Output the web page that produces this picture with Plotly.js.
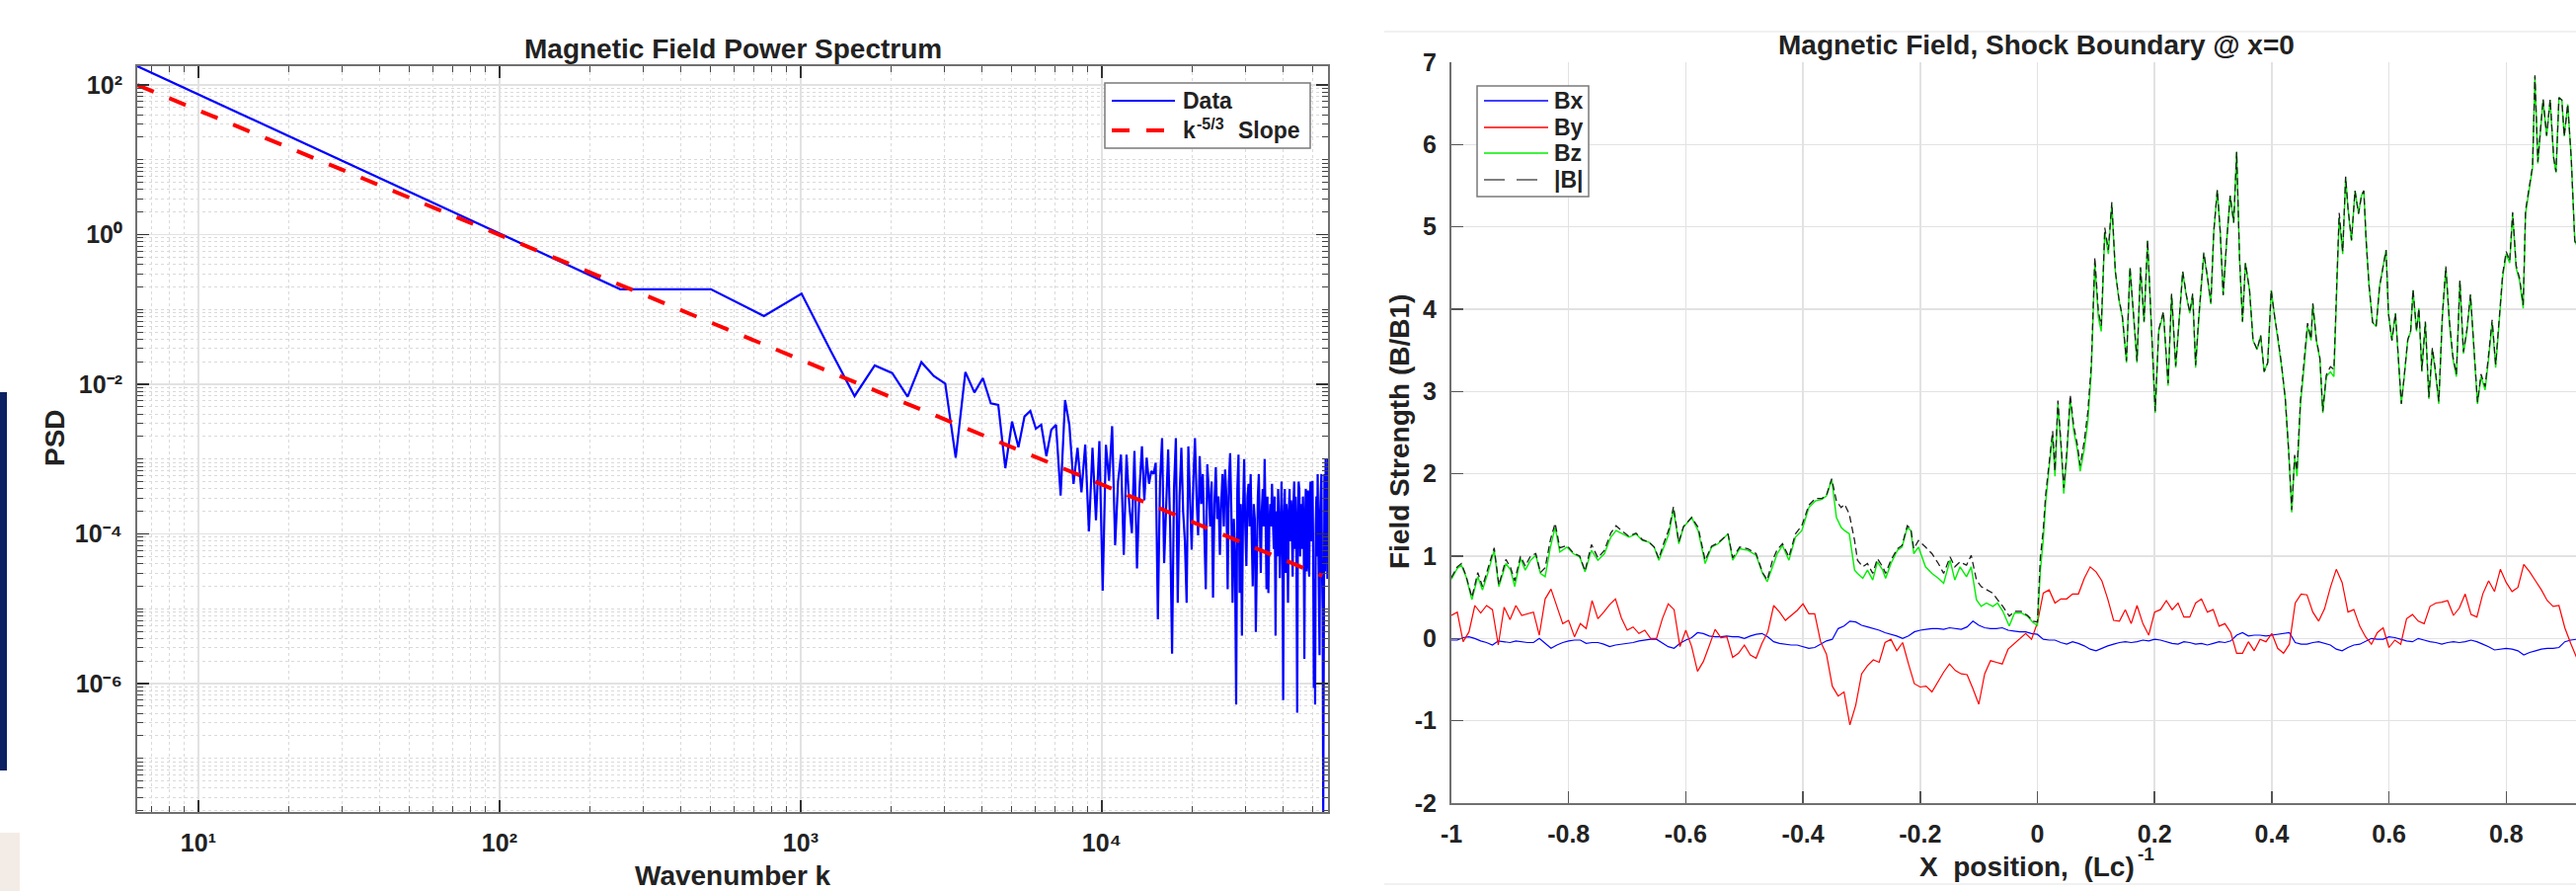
<!DOCTYPE html>
<html>
<head>
<meta charset="utf-8">
<script src="https://cdn.plot.ly/plotly-3.0.1.min.js"></script>
<style>
html,body{margin:0;padding:0;background:#ffffff;overflow:hidden;}
#chart{width:2609px;height:902px;}
</style>
</head>
<body>
<div id="chart"></div>
<script>
// ---------------- Left panel: power spectrum ----------------
const kFirst = 6.27;     // first wavenumber sample
const kStep = 251.8;     // wavenumber spacing of the remaining samples
// log10(PSD), one value per wavenumber sample
const psdLog10 = [
  2.251,-0.73,-0.73,-1.089,-0.79,-1.555,-2.158,-1.749,-1.851,-2.167,
  -1.705,-1.89,-1.991,-2.981,-1.837,-2.11,-1.917,-2.255,-2.277,-3.122,
  -2.498,-2.841,-2.431,-2.356,-2.594,-2.541,-2.96,-2.607,-2.541,-3.488,
  -2.211,-2.541,-3.333,-2.85,-3.443,-2.805,-3.967,-2.85,-3.818,-2.76,
  -4.76,-2.81,-3.29,-2.56,-4.15,-3.3,-2.94,-4.28,-2.94,-3.6,
  -3.99,-2.89,-4.46,-3.4,-2.83,-3.55,-2.98,-3.33,-3.16,-3.2,
  -3.05,-5.14,-3.3,-2.72,-4.39,-3.6,-2.87,-3.9,-5.6,-3.4,
  -2.72,-4.92,-3.5,-2.85,-3.7,-4.1,-4.92,-2.83,-3.6,-4.21,
  -3.3,-2.72,-3.5,-4.02,-2.96,-3.6,-3.2,-3.9,-4.74,-3.07,
  -3.4,-3.9,-3.3,-4.85,-3.6,-3.11,-3.8,-3.5,-4.28,-3.6,
  -3.2,-3.9,-3.14,-3.5,-4.74,-3.3,-2.92,-3.7,-4.92,-3.8,
  -4.3,-6.28,-3.4,-2.94,-4.79,-3.6,-5.36,-3.7,-3.0,-3.9,
  -4.43,-3.5,-3.33,-3.9,-3.2,-4.0,-4.7,-3.6,-3.8,-5.31,
  -4.26,-3.5,-3.2,-3.9,-4.52,-3.7,-3.4,-3.9,-3.0,-3.8,
  -4.74,-3.5,-4.79,-3.9,-3.6,-3.9,-3.33,-3.8,-4.2,-3.5,
  -5.36,-3.7,-4.3,-3.4,-3.8,-4.59,-3.5,-3.3,-4.0,-6.22,
  -3.8,-3.4,-4.52,-3.6,-3.9,-4.92,-3.7,-3.4,-4.1,-3.55,
  -4.0,-4.57,-3.6,-3.3,-4.2,-3.5,-4.4,-6.39,-3.8,-3.3,
  -3.42,-4.3,-3.6,-3.64,-4.2,-3.5,-4.0,-5.67,-3.9,-3.4,
  -4.5,-3.6,-3.42,-4.4,-4.57,-3.5,-3.3,-4.1,-3.6,-3.29,
  -4.2,-6.06,-4.6,-6.28,-3.9,-3.5,-4.3,-3.2,-4.1,-4.8,
  -5.62,-3.7,-3.4,-3.2,-4.5,-5.0,-7.716,-5.8,-3.2,-4.5,
  -3.0,-4.0,-3.3,-4.6,-3.0
];
const slopeK = [6.27, 54000];
const slopePsd = [100, 2.76e-5];
const xTickVals = [10, 100, 1000, 10000];
const xTickText = ['10\u00b9','10\u00b2','10\u00b3','10\u2074'];
const yTickVals = [1e2, 1, 1e-2, 1e-4, 1e-6];
const yTickText = ['10\u00b2','10\u2070','10\u207b\u00b2','10\u207b\u2074','10\u207b\u2076'];
const legend1Names = ['Data', 'k', '-5/3', 'Slope'];

// ---------------- Right panel: magnetic field ----------------
const posStart = -1, posStep = 0.01;   // grid of Bx, By samples
const bx = [
  -0.02,-0.02,0.01,0.02,0.00,-0.03,-0.05,-0.08,-0.03,-0.04,
  -0.05,-0.03,-0.04,-0.05,-0.05,0.00,-0.06,-0.12,-0.08,-0.05,
  -0.03,-0.02,-0.02,-0.06,-0.05,-0.05,-0.07,-0.10,-0.08,-0.07,
  -0.06,-0.05,-0.03,-0.02,-0.01,-0.01,-0.05,-0.10,-0.12,-0.06,
  -0.02,0.01,0.07,0.06,0.03,0.02,0.02,0.03,0.02,0.02,
  0.00,0.03,0.05,0.06,0.02,-0.04,-0.06,-0.07,-0.08,-0.08,
  -0.10,-0.12,-0.11,-0.07,-0.03,-0.01,0.12,0.15,0.21,0.20,
  0.16,0.14,0.12,0.10,0.07,0.05,0.03,0.00,0.03,0.08,
  0.10,0.11,0.12,0.12,0.11,0.13,0.12,0.11,0.14,0.21,
  0.16,0.13,0.12,0.12,0.13,0.10,0.09,0.08,0.08,0.06,
  0.05,-0.01,-0.02,-0.02,-0.05,-0.07,-0.04,-0.06,-0.09,-0.13,
  -0.15,-0.12,-0.09,-0.07,-0.05,-0.04,-0.05,-0.04,-0.02,-0.03,
  -0.01,-0.02,-0.04,-0.06,-0.07,-0.04,-0.05,-0.07,-0.06,-0.08,
  -0.06,-0.04,-0.05,-0.03,0.04,0.07,0.03,0.04,0.04,0.03,
  0.04,0.05,0.06,0.07,-0.05,-0.07,-0.07,-0.05,-0.04,-0.06,
  -0.08,-0.13,-0.15,-0.11,-0.08,-0.07,-0.03,0.00,-0.01,-0.01,
  0.02,0.01,-0.01,-0.03,-0.04,0.00,-0.02,-0.04,-0.05,-0.07,
  -0.05,-0.04,-0.05,-0.04,-0.02,-0.04,-0.07,-0.10,-0.14,-0.13,
  -0.12,-0.13,-0.15,-0.20,-0.17,-0.15,-0.13,-0.12,-0.12,-0.11,
  -0.04,-0.02,-0.01
];
const by = [
  0.28,0.32,-0.04,0.08,0.40,0.31,0.40,0.35,-0.08,0.38,
  0.23,0.40,0.28,0.30,0.32,0.04,0.48,0.60,0.40,0.18,
  0.22,0.02,0.18,0.12,0.46,0.24,0.32,0.41,0.48,0.25,
  0.10,0.14,0.06,0.10,0.00,0.00,0.24,0.42,0.35,-0.10,
  0.10,-0.10,-0.40,-0.28,-0.09,0.11,0.01,0.02,-0.23,-0.18,
  -0.08,-0.20,-0.24,-0.06,0.08,0.40,0.32,0.22,0.28,0.34,
  0.42,0.30,0.30,-0.04,-0.19,-0.58,-0.70,-0.65,-1.05,-0.81,
  -0.43,-0.33,-0.26,-0.29,-0.05,-0.01,-0.15,-0.05,-0.31,-0.55,
  -0.59,-0.58,-0.65,-0.53,-0.41,-0.31,-0.39,-0.43,-0.44,-0.61,
  -0.80,-0.43,-0.27,-0.29,-0.31,-0.13,-0.07,-0.01,0.06,-0.01,
  0.19,0.55,0.59,0.43,0.48,0.48,0.54,0.54,0.73,0.87,
  0.81,0.70,0.48,0.22,0.21,0.35,0.18,0.40,0.18,0.04,
  0.32,0.35,0.46,0.35,0.43,0.26,0.26,0.43,0.48,0.32,
  0.35,0.15,0.18,0.07,-0.18,-0.18,-0.04,-0.15,-0.01,-0.04,
  0.06,-0.12,-0.18,-0.07,0.43,0.54,0.53,0.32,0.21,0.36,
  0.62,0.84,0.68,0.32,0.35,0.15,0.02,-0.07,0.07,0.13,
  -0.11,-0.02,-0.07,0.24,0.29,0.21,0.18,0.39,0.43,0.44,
  0.46,0.28,0.37,0.54,0.29,0.26,0.54,0.70,0.57,0.84,
  0.68,0.57,0.62,0.90,0.81,0.70,0.59,0.46,0.39,0.40,
  0.13,-0.06,-0.23
];
const bzX = [
  -1.0,-0.99,-0.983,-0.975,-0.965,-0.955,-0.947,-0.938,-0.927,-0.919,
  -0.907,-0.899,-0.892,-0.882,-0.874,-0.865,-0.856,-0.848,-0.84,-0.831,
  -0.823,-0.815,-0.803,-0.792,-0.781,-0.772,-0.761,-0.75,-0.739,-0.728,
  -0.719,-0.708,-0.697,-0.685,-0.674,-0.663,-0.654,-0.646,-0.638,-0.629,
  -0.621,-0.612,-0.604,-0.59,-0.579,-0.567,-0.556,-0.545,-0.528,-0.52,
  -0.508,-0.494,-0.48,-0.469,-0.461,-0.452,-0.444,-0.435,-0.424,-0.413,
  -0.402,-0.39,-0.379,-0.368,-0.36,-0.351,-0.343,-0.335,-0.329,-0.321,
  -0.312,-0.307,-0.298,-0.29,-0.281,-0.273,-0.264,-0.259,-0.25,-0.239,
  -0.231,-0.222,-0.216,-0.211,-0.203,-0.191,-0.18,-0.169,-0.16,-0.149,
  -0.141,-0.132,-0.121,-0.113,-0.104,-0.096,-0.087,-0.076,-0.068,-0.059,
  -0.048,-0.039,-0.028,-0.017,-0.007,0,
  0.005,0.01,0.014,0.02,0.026,0.03,0.035,0.041,0.045,0.05,
  0.056,0.062,0.068,0.073,0.08,0.086,0.092,0.098,0.104,0.109,
  0.115,0.121,0.127,0.133,0.139,0.145,0.152,0.158,0.164,0.17,
  0.176,0.182,0.188,0.194,0.201,0.207,0.215,0.223,0.229,0.236,
  0.242,0.248,0.254,0.26,0.265,0.27,0.275,0.284,0.29,0.296,
  0.301,0.307,0.312,0.317,0.323,0.329,0.335,0.34,0.345,0.35,
  0.355,0.362,0.368,0.375,0.381,0.387,0.393,0.399,0.405,0.411,
  0.417,0.423,0.429,0.434,0.439,0.443,0.449,0.455,0.461,0.467,
  0.47,0.476,0.482,0.487,0.493,0.5,0.506,0.511,0.515,0.521,
  0.526,0.53,0.536,0.542,0.548,0.553,0.557,0.561,0.566,0.572,
  0.578,0.584,0.59,0.595,0.599,0.605,0.611,0.617,0.621,0.626,
  0.632,0.637,0.641,0.647,0.651,0.656,0.662,0.668,0.674,0.679,
  0.685,0.691,0.697,0.703,0.709,0.715,0.721,0.727,0.733,0.739,
  0.745,0.751,0.757,0.764,0.77,0.776,0.782,0.788,0.794,0.8,
  0.806,0.811,0.817,0.823,0.829,0.833,0.839,0.845,0.849,0.854,
  0.859,0.863,0.869,0.875,0.881,0.885,0.89,0.895,0.899,0.905,
  0.911,0.917,0.925
];
const bz = [
  0.72,0.85,0.89,0.75,0.47,0.75,0.59,0.79,1.07,0.63,
  0.91,0.83,0.63,0.97,0.83,0.95,1.01,0.79,0.75,1.11,
  1.35,1.05,1.11,1.03,0.99,0.81,1.07,0.95,1.03,1.23,
  1.31,1.27,1.23,1.27,1.19,1.17,1.11,0.95,1.11,1.27,
  1.57,1.15,1.35,1.47,1.31,0.91,1.11,1.15,1.27,0.95,
  1.09,1.07,1.01,0.79,0.69,0.87,1.03,1.13,0.95,1.23,
  1.31,1.59,1.67,1.69,1.73,1.93,1.47,1.35,1.31,1.27,
  0.83,0.79,0.73,0.83,0.71,0.93,0.83,0.73,0.91,1.07,
  1.11,1.35,1.31,1.03,1.11,0.87,0.79,0.73,0.67,0.95,
  0.71,0.87,0.75,0.87,0.47,0.39,0.43,0.39,0.43,0.33,
  0.15,0.31,0.31,0.27,0.19,0.16,
  0.82,1.20,1.64,2.08,2.47,1.97,2.85,2.25,1.76,2.19,
  2.91,2.52,2.30,2.03,2.30,2.63,3.24,4.56,3.90,3.73,
  4.94,4.67,5.27,4.45,4.12,3.90,3.35,4.50,3.95,3.35,
  4.50,3.84,4.83,3.84,2.74,3.73,3.95,3.07,4.17,3.29,
  3.84,4.45,4.17,3.95,4.17,3.29,3.84,4.67,4.39,4.06,
  4.94,5.44,4.94,4.17,4.83,5.38,5.05,5.91,4.61,3.84,
  4.56,4.23,3.62,3.51,3.68,3.24,3.35,4.23,3.90,3.62,
  3.29,2.91,2.25,1.53,2.19,1.97,2.85,3.29,3.79,3.62,
  4.06,3.62,3.40,2.74,3.18,3.24,3.18,4.28,5.11,4.67,
  5.60,5.22,4.83,5.44,5.16,5.38,5.44,4.83,4.28,3.84,
  3.79,4.28,4.50,4.72,3.95,3.62,3.95,3.29,2.85,3.18,
  3.62,3.73,4.23,3.73,4.01,3.24,3.84,2.91,3.51,3.24,
  2.85,3.90,4.50,3.84,3.40,3.18,4.34,3.46,3.73,4.17,
  3.57,2.85,3.18,3.02,3.40,3.84,3.29,3.84,4.39,4.67,
  4.56,5.16,4.50,4.34,4.01,5.16,5.44,5.72,6.82,5.77,
  6.21,6.54,6.10,6.54,5.83,5.66,6.57,6.54,6.10,6.49,
  5.83,4.83,4.70
];
const bmag = [
  0.74,0.87,0.91,0.76,0.50,0.80,0.63,0.84,1.10,0.65,
  0.96,0.86,0.70,1.00,0.88,1.00,1.03,0.80,0.86,1.20,
  1.40,1.10,1.13,1.04,1.00,0.82,1.14,0.98,1.07,1.28,
  1.37,1.30,1.24,1.28,1.20,1.17,1.11,0.97,1.15,1.32,
  1.60,1.17,1.36,1.47,1.35,0.95,1.12,1.16,1.27,0.98,
  1.11,1.09,1.03,0.80,0.71,0.95,1.08,1.15,0.99,1.27,
  1.37,1.62,1.70,1.70,1.74,1.94,1.67,1.59,1.63,1.51,
  1.19,0.95,0.87,0.91,0.79,0.97,0.87,0.79,0.95,1.09,
  1.13,1.37,1.33,1.09,1.19,1.11,1.03,0.91,0.79,0.99,
  0.87,0.93,0.89,1.01,0.71,0.63,0.59,0.55,0.47,0.39,
  0.27,0.33,0.33,0.28,0.21,0.20,
  0.98,1.32,1.74,2.16,2.52,2.03,2.89,2.30,1.83,2.25,
  2.96,2.58,2.36,2.10,2.40,2.75,3.33,4.63,3.97,3.80,
  4.99,4.72,5.30,4.46,4.13,3.91,3.37,4.51,3.96,3.37,
  4.51,3.85,4.84,3.84,2.76,3.75,3.97,3.10,4.19,3.31,
  3.87,4.46,4.18,3.96,4.19,3.32,3.87,4.69,4.40,4.08,
  4.95,5.45,4.94,4.17,4.83,5.38,5.05,5.91,4.61,3.85,
  4.56,4.23,3.62,3.51,3.68,3.24,3.35,4.23,3.90,3.63,
  3.30,2.91,2.25,1.56,2.23,2.04,2.90,3.33,3.83,3.64,
  4.07,3.63,3.41,2.76,3.20,3.30,3.27,4.35,5.17,4.70,
  5.61,5.23,4.84,5.44,5.16,5.38,5.44,4.83,4.28,3.84,
  3.79,4.28,4.50,4.72,3.95,3.62,3.95,3.29,2.85,3.19,
  3.63,3.74,4.24,3.74,4.01,3.25,3.85,2.93,3.53,3.27,
  2.88,3.92,4.52,3.86,3.43,3.21,4.35,3.48,3.76,4.18,
  3.58,2.87,3.21,3.06,3.45,3.87,3.33,3.89,4.43,4.70,
  4.59,5.18,4.53,4.37,4.05,5.20,5.47,5.74,6.84,5.79,
  6.22,6.55,6.11,6.55,5.84,5.67,6.57,6.54,6.10,6.49,
  5.83,4.83,4.70
];
const x2TickVals = [-1,-0.8,-0.6,-0.4,-0.2,0,0.2,0.4,0.6,0.8];
const x2TickText = ['-1','-0.8','-0.6','-0.4','-0.2','0','0.2','0.4','0.6','0.8'];
const y2TickVals = [-2,-1,0,1,2,3,4,5,6,7];
const y2TickText = ['-2','-1','0','1','2','3','4','5','6','7'];
const legend2Names = ['Bx','By','Bz','|B|'];

// ---------------- build ----------------
const W = 2609, H = 902;
const px = v => v / W;
const py = v => 1 - v / H;
const FONT = 'Liberation Sans, Arial, Helvetica, sans-serif';
const TXT = '#222222';
const AXC = '#707070';

const k = psdLog10.map((_, n) => n === 0 ? kFirst : n * kStep);
const psd = psdLog10.map(v => Math.pow(10, v));

const minorX = [];
for (let e = 0; e <= 4; e++) for (let m = 2; m <= 9; m++) minorX.push(m * Math.pow(10, e));
const minorY = [];
for (let e = -8; e <= 2; e++) for (let m = 1; m <= 9; m++) {
  if (m === 1 && e % 2 === 0) continue;
  minorY.push(m * Math.pow(10, e));
}

const traces = [
  {x: k, y: psd, xaxis: 'x', yaxis: 'y', type: 'scatter', mode: 'lines',
   line: {color: '#0000ff', width: 2.2}, name: 'Data'},
  {x: slopeK, y: slopePsd, xaxis: 'x', yaxis: 'y', type: 'scatter', mode: 'lines',
   line: {color: '#ff0000', width: 4, dash: '18px,17px'}, name: 'k^-5/3 Slope'},
  {y: bx, x0: posStart, dx: posStep, xaxis: 'x2', yaxis: 'y2', type: 'scatter', mode: 'lines',
   line: {color: '#0000ff', width: 1.2}, name: 'Bx'},
  {y: by, x0: posStart, dx: posStep, xaxis: 'x2', yaxis: 'y2', type: 'scatter', mode: 'lines',
   line: {color: '#ff0000', width: 1.2}, name: 'By'},
  {x: bzX, y: bz, xaxis: 'x2', yaxis: 'y2', type: 'scatter', mode: 'lines',
   line: {color: '#00ee00', width: 1.4}, name: 'Bz'},
  {x: bzX, y: bmag, xaxis: 'x2', yaxis: 'y2', type: 'scatter', mode: 'lines',
   line: {color: '#1e1e1e', width: 1.3, dash: '7px,4px'}, name: '|B|'}
];

const tickFont = {family: FONT, size: 25, color: TXT, weight: 'bold'};
const minorStyle = vals => ({tickmode: 'array', tickvals: vals, ticks: 'inside', ticklen: 6, tickwidth: 1,
  tickcolor: '#444444', showgrid: true, gridcolor: '#dadada', griddash: 'dot', gridwidth: 1});

const layout = {
  width: W, height: H,
  margin: {l: 0, r: 0, t: 0, b: 0, pad: 0},
  paper_bgcolor: '#ffffff', plot_bgcolor: '#ffffff',
  showlegend: false, hovermode: false,
  font: {family: FONT, color: TXT},
  xaxis: {
    domain: [px(139), px(1345)], anchor: 'y', type: 'log', range: [0.797, 4.7513],
    showline: true, linecolor: AXC, linewidth: 2, mirror: 'allticks',
    ticks: 'inside', ticklen: 12, tickwidth: 1.5, tickcolor: '#333333',
    tickmode: 'array', tickvals: xTickVals, ticktext: xTickText, tickfont: tickFont,
    ticklabelstandoff: 8,
    showgrid: true, gridcolor: '#e2e2e2', gridwidth: 1.5, zeroline: false,
    minor: minorStyle(minorX)
  },
  yaxis: {
    domain: [py(822), py(67)], anchor: 'x', type: 'log', range: [-7.716, 2.251],
    showline: true, linecolor: AXC, linewidth: 2, mirror: 'allticks',
    ticks: 'inside', ticklen: 12, tickwidth: 1.5, tickcolor: '#333333',
    tickmode: 'array', tickvals: yTickVals, ticktext: yTickText, tickfont: tickFont,
    ticklabelstandoff: 8,
    showgrid: true, gridcolor: '#e2e2e2', gridwidth: 1.5, zeroline: false,
    minor: minorStyle(minorY)
  },
  xaxis2: {
    domain: [px(1470), 1], anchor: 'y2', range: [-1, 0.9191],
    showline: true, linecolor: AXC, linewidth: 2, mirror: false,
    ticks: 'inside', ticklen: 12, tickwidth: 1.5, tickcolor: '#555555',
    tickmode: 'array', tickvals: x2TickVals, ticktext: x2TickText, tickfont: tickFont,
    ticklabelstandoff: 8,
    showgrid: true, gridcolor: '#e2e2e2', gridwidth: 1.5, zeroline: false
  },
  yaxis2: {
    domain: [py(813), py(63)], anchor: 'x2', range: [-2, 7],
    showline: true, linecolor: AXC, linewidth: 2, mirror: false,
    ticks: 'inside', ticklen: 12, tickwidth: 1.5, tickcolor: '#555555',
    tickmode: 'array', tickvals: y2TickVals, ticktext: y2TickText, tickfont: tickFont,
    ticklabelstandoff: 8,
    showgrid: true, gridcolor: '#e2e2e2', gridwidth: 1.5, zeroline: false
  },
  annotations: [],
  shapes: []
};

function note(text, x, y, opts) {
  layout.annotations.push(Object.assign({
    text: text, x: px(x), y: py(y), xref: 'paper', yref: 'paper', showarrow: false,
    xanchor: 'center', yanchor: 'middle', borderpad: 0,
    font: {family: FONT, size: 28, color: TXT, weight: 'bold'}
  }, opts || {}));
}
note('Magnetic Field Power Spectrum', 742, 49);
note('Magnetic Field, Shock Boundary @ x=0', 2062, 45);
note('Wavenumber k', 742, 886);
note('X\u00a0 position,\u00a0 (Lc)', 2163, 877, {xanchor: 'right'});
note('-1', 2164, 864, {xanchor: 'left', font: {family: FONT, size: 19, color: TXT, weight: 'bold'}});
note('PSD', 55, 443, {textangle: -90});
note('Field Strength (B/B1)', 1417, 437, {textangle: -90});

const legFont = {family: FONT, size: 23, color: TXT, weight: 'bold'};
note(legend1Names[0], 1197, 102, {xanchor: 'left', font: legFont});
note(legend1Names[1], 1197, 132, {xanchor: 'left', font: legFont});
note(legend1Names[2], 1211, 126, {xanchor: 'left', font: {family: FONT, size: 16, color: TXT, weight: 'bold'}});
note(legend1Names[3], 1253, 132, {xanchor: 'left', font: legFont});
const leg2Y = [102, 129, 155, 182];
legend2Names.forEach((t, i) => note(t, 1573, leg2Y[i], {xanchor: 'left', font: legFont}));

function rect(x0, y0, x1, y1, fill, lineColor, lw) {
  layout.shapes.push({type: 'rect', xref: 'paper', yref: 'paper',
    x0: px(x0), x1: px(x1), y0: py(y1), y1: py(y0),
    fillcolor: fill, line: {color: lineColor || fill, width: lw || 0}, layer: 'above'});
}
function seg(x0, y0, x1, y1, color, width, dash) {
  layout.shapes.push({type: 'line', xref: 'paper', yref: 'paper',
    x0: px(x0), x1: px(x1), y0: py(y0), y1: py(y1),
    line: {color: color, width: width, dash: dash || 'solid'}, layer: 'above'});
}
// page decorations around the two figures
rect(0, 397, 7, 780, '#0b2161');
rect(0, 843, 20, 902, '#f3ece6');
seg(1402, 32, 2609, 32, '#ededed', 1.5);
seg(1402, 895, 2609, 895, '#ededed', 1.5);
// legend 1
rect(1119, 84, 1327, 150, '#ffffff', '#7a7a7a', 1.5);
seg(1126, 102, 1190, 102, traces[0].line.color, 2.2);
seg(1126, 132, 1180, 132, traces[1].line.color, 4, '18px,17px');
// legend 2
rect(1496, 87, 1609, 199, '#ffffff', '#7a7a7a', 1.5);
seg(1503, leg2Y[0], 1568, leg2Y[0], traces[2].line.color, 1.3);
seg(1503, leg2Y[1], 1568, leg2Y[1], traces[3].line.color, 1.3);
seg(1503, leg2Y[2], 1568, leg2Y[2], traces[4].line.color, 1.5);
seg(1503, leg2Y[3], 1557, leg2Y[3], '#555555', 1.5, '21px,12px');

Plotly.newPlot('chart', traces, layout, {staticPlot: true, displayModeBar: false});
</script>
</body>
</html>
